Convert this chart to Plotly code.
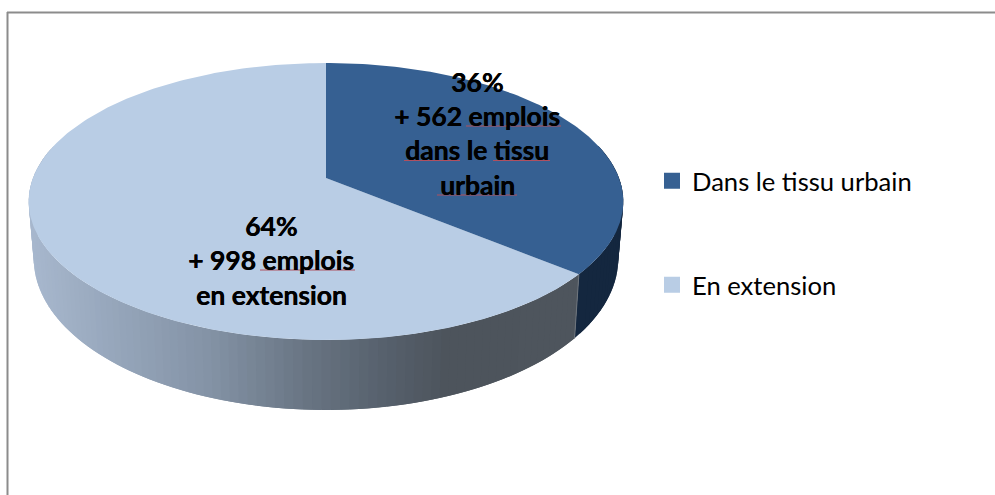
import numpy as np
import plotly.graph_objects as go

# ---------- data ----------
categories = ["Dans le tissu urbain", "En extension"]
jobs = [562, 998]
slice_colors = ["#366092", "#B9CDE5"]
side_dark = "#14273F"
label_lines_0 = ["36%", "+ 562 emplois", "dans le tissu", "urbain"]
label_lines_1 = ["64%", "+ 998 emplois", "en extension"]

# ---------- 3D-pie projection (Office-style perspective) ----------
CX, CY, K = 326.0, 178.0, 0.1697
def project(theta, b, c, a):
    u, v = np.sin(theta), np.cos(theta)
    w = 1 + K * v
    return CX + b * u / w, (c + a * v) / w

def top(theta):
    return project(theta, 293.0, CY, -104.3)

def bottom(theta):
    return project(theta, 288.0, 233.0, -107.4)

split = 2 * np.pi * jobs[0] / sum(jobs)

# side gradient stops against screen x
grad_x = [28, 100, 200, 300, 380, 440, 581]
grad_r = [168, 152, 132, 104, 86, 77, 79]
grad_g = [184, 168, 147, 116, 96, 84, 86]
grad_b = [206, 189, 166, 130, 108, 92, 94]

fig = go.Figure()

def poly(xs, ys, color, width=0.0):
    fig.add_trace(go.Scatter(
        x=xs, y=ys, mode="lines", fill="toself", fillcolor=color,
        line=dict(color=color, width=width), hoverinfo="skip", showlegend=False))

def strip(a0, a1, color):
    t = np.linspace(a0, a1, 4)
    xt, yt = top(t)
    xb, yb = bottom(t)
    poly(np.r_[xt, xb[::-1]], np.r_[yt, yb[::-1]], color)

# side wall: dark slice part, overlapping strips so the outline follows the silhouette
edges = np.linspace(np.pi * 0.42, split, 31)
for a0, a1 in zip(edges[:-1], edges[1:]):
    strip(max(edges[0], a0 - (edges[1] - edges[0])), a1, side_dark)

# side wall: extension part, gradient strips painted with overlap so no seams show
edges = np.linspace(split, 2 * np.pi - np.pi * 0.42, 101)
step = edges[1] - edges[0]
for a0, a1 in zip(edges[:-1], edges[1:]):
    m = top(np.array([a0 + step / 2]))[0][0]
    col = "rgb(%d,%d,%d)" % (np.interp(m, grad_x, grad_r),
                             np.interp(m, grad_x, grad_g),
                             np.interp(m, grad_x, grad_b))
    strip(max(split, a0 - step), a1, col)

# light seam between the two side walls
xs0, ys0 = top(np.array([split]))
xs1, ys1 = bottom(np.array([split]))
fig.add_trace(go.Scatter(x=[xs0[0], xs1[0]], y=[ys0[0], ys1[0]], mode="lines",
                         line=dict(color="#6E757D", width=1),
                         hoverinfo="skip", showlegend=False))

# top faces
t = np.linspace(split, 2 * np.pi, 240)
xt, yt = top(t)
poly(np.r_[CX, xt, CX], np.r_[CY, yt, CY], slice_colors[1])
t = np.linspace(0, split, 140)
xt, yt = top(t)
poly(np.r_[CX, xt, CX], np.r_[CY, yt, CY], slice_colors[0])

# legend entries
for i, (name, col) in enumerate(zip(categories, slice_colors)):
    fig.add_trace(go.Scatter(
        x=[None], y=[None], mode="markers", name=name,
        marker=dict(symbol="square", size=16, color=col),
        legend="legend" if i == 0 else "legend2"))

font_txt = "Lato, Open Sans, sans-serif"
ann = []
def label(line, x, y):
    ann.append(dict(x=x, y=y, text="<b>%s</b>" % line, showarrow=False,
                    xanchor="center", yanchor="middle",
                    font=dict(family=font_txt, size=26.5, color="#000000",
                              shadow="0.4px 0 0 #000000")))
for line, y in zip(label_lines_0, [82, 116, 150, 185]):
    label(line, 477, y)
for line, y in zip(label_lines_1, [226, 260, 295]):
    label(line, 271, y)

# frame and spell-check underlines
shapes = [
    dict(type="line", x0=7, x1=995, y0=12.5, y1=12.5, line=dict(color="#8C8C8C", width=2)),
    dict(type="line", x0=7.5, x1=7.5, y0=12, y1=495, line=dict(color="#8C8C8C", width=2)),
]
for x0, x1, y in [(466, 561, 126), (404, 460, 160.5), (493, 550, 160.5),
                  (437, 517, 195), (260, 355, 270)]:
    shapes.append(dict(type="line", x0=x0, x1=x1, y0=y, y1=y,
                       line=dict(color="#B0505F", width=1)))

legend_base = dict(font=dict(family=font_txt, size=25.6, color="#000000"),
                   bgcolor="rgba(0,0,0,0)", xanchor="left", yanchor="middle",
                   itemwidth=30, borderwidth=0, indentation=-5)

fig.update_layout(
    width=995, height=495, autosize=False,
    margin=dict(l=0, r=0, t=0, b=0),
    paper_bgcolor="#FFFFFF", plot_bgcolor="#FFFFFF",
    xaxis=dict(range=[0, 995], visible=False, fixedrange=True),
    yaxis=dict(range=[495, 0], visible=False, fixedrange=True),
    legend=dict(x=657 / 995, y=1 - 181 / 495, **legend_base),
    legend2=dict(x=657 / 995, y=1 - 285 / 495, **legend_base),
    annotations=ann, shapes=shapes, showlegend=True,
)
fig.write_html("out.html", config=dict(displayModeBar=False),
               post_script="document.body.style.margin='0';")
